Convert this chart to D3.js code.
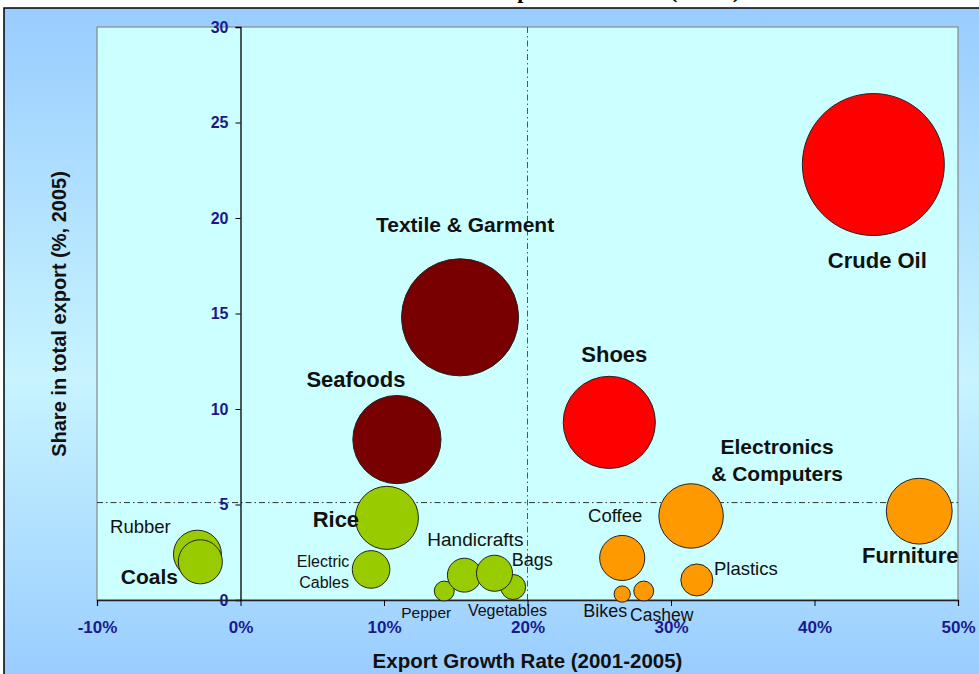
<!DOCTYPE html>
<html>
<head>
<meta charset="utf-8">
<script src="https://cdn.jsdelivr.net/npm/d3@7"></script>
<style>
  body { margin: 0; background: #ffffff; }
  svg { display: block; }
</style>
</head>
<body>
<div id="my_bubble_chart"></div>
<script>
// data
var products = ["Crude Oil", "Textile & Garment", "Shoes", "Seafoods", "Electronics & Computers",
  "Furniture", "Rice", "Rubber", "Coals", "Coffee", "Electric Cables", "Pepper", "Handicrafts",
  "Bags", "Vegetables", "Plastics", "Bikes", "Cashew"];
var growth = [44.1, 15.3, 25.7, 10.9, 31.4, 47.3, 10.2, -3.0, -2.8, 26.6, 9.1, 14.2, 15.6, 19.0, 17.7, 31.8, 26.6, 28.1];
var share = [22.8, 14.8, 9.3, 8.4, 4.4, 4.65, 4.3, 2.4, 2.0, 2.2, 1.6, 0.47, 1.3, 0.68, 1.4, 1.05, 0.31, 0.47];
var bubbleSize = [22.8, 15.5, 9.6, 8.8, 4.7, 4.9, 4.5, 2.6, 2.2, 2.3, 1.6, 0.45, 1.3, 0.71, 1.47, 1.16, 0.3, 0.45];
var group = ["red", "maroon", "red", "maroon", "orange", "orange", "green", "green", "green", "orange",
  "green", "green", "green", "green", "green", "orange", "orange", "orange"];
var xTicks = [-10, 0, 10, 20, 30, 40, 50];
var yTicks = [0, 5, 10, 15, 20, 25, 30];
var shareLine = 5.1;
var growthLine = 20;

// colours per group
var colors = { red: "#ff0000", maroon: "#780000", green: "#99cc00", orange: "#ff9900" };

// where each label goes, relative to its bubble (px)
var labelLayout = {
  "Crude Oil": [{ t: "Crude Oil", dx: 4, dy: 103, s: 22, w: "bold" }],
  "Textile & Garment": [{ t: "Textile & Garment", dx: 5, dy: -85, s: 21, w: "bold" }],
  "Shoes": [{ t: "Shoes", dx: 5, dy: -60, s: 22, w: "bold" }],
  "Seafoods": [{ t: "Seafoods", dx: -41, dy: -53, s: 22, w: "bold" }],
  "Electronics & Computers": [{ t: "Electronics", dx: 86, dy: -62, s: 21, w: "bold" },
    { t: "& Computers", dx: 86, dy: -35, s: 21, w: "bold" }],
  "Furniture": [{ t: "Furniture", dx: -9, dy: 52, s: 22, w: "bold" }],
  "Rice": [{ t: "Rice", dx: -51, dy: 9, s: 22, w: "bold" }],
  "Rubber": [{ t: "Rubber", dx: -57, dy: -21, s: 18.5, w: "normal" }],
  "Coals": [{ t: "Coals", dx: -51, dy: 22, s: 21, w: "bold" }],
  "Coffee": [{ t: "Coffee", dx: -7, dy: -36, s: 18.5, w: "normal" }],
  "Electric Cables": [{ t: "Electric", dx: -48, dy: -2, s: 16, w: "normal" },
    { t: "Cables", dx: -47, dy: 19, s: 16, w: "normal" }],
  "Pepper": [{ t: "Pepper", dx: -18, dy: 27, s: 15.5, w: "normal" }],
  "Handicrafts": [{ t: "Handicrafts", dx: 11, dy: -29, s: 19, w: "normal" }],
  "Bags": [{ t: "Bags", dx: 19, dy: -21, s: 18, w: "normal" }],
  "Vegetables": [{ t: "Vegetables", dx: 13, dy: 43, s: 16, w: "normal" }],
  "Plastics": [{ t: "Plastics", dx: 49, dy: -5, s: 18.5, w: "normal" }],
  "Bikes": [{ t: "Bikes", dx: -17, dy: 23, s: 18, w: "normal" }],
  "Cashew": [{ t: "Cashew", dx: 18, dy: 30, s: 17.5, w: "normal" }]
};

var fullWidth = 979, fullHeight = 674;
var plot = { left: 97, right: 958, top: 27, bottom: 600 };
var font = "'Liberation Sans', Arial, sans-serif";

var data = products.map(function (p, i) {
  return { name: p, x: growth[i], y: share[i], size: bubbleSize[i], group: group[i] };
});

var svg = d3
  .select("#my_bubble_chart")
  .append("svg")
  .attr("width", fullWidth)
  .attr("height", fullHeight);

// background gradient of the frame
var grad = svg.append("defs").append("linearGradient")
  .attr("id", "bg").attr("x1", 0).attr("y1", 0).attr("x2", 0).attr("y2", 1);
grad.append("stop").attr("offset", "0%").attr("stop-color", "#99ccff");
grad.append("stop").attr("offset", "55%").attr("stop-color", "#c8f4ff");
grad.append("stop").attr("offset", "100%").attr("stop-color", "#99ccff");

// title, mostly cut off by the top of the picture
svg.append("text")
  .attr("x", 5).attr("y", -2)
  .attr("font-family", "'Liberation Serif', 'Times New Roman', serif")
  .attr("font-weight", "bold").attr("font-size", 22)
  .attr("textLength", 735).attr("lengthAdjust", "spacing")
  .text("Chart 3: Content and Share of Vietnam\u2019s Export Baskets (2005)");

svg.append("rect")
  .attr("x", 4).attr("y", 8).attr("width", fullWidth + 10).attr("height", fullHeight)
  .attr("fill", "url(#bg)").attr("stroke", "#000").attr("stroke-width", 1.5);

svg.append("rect")
  .attr("x", plot.left).attr("y", plot.top)
  .attr("width", plot.right - plot.left).attr("height", plot.bottom - plot.top)
  .attr("fill", "#ccffff").attr("stroke", "#888").attr("stroke-width", 1.2);

// scales
var x = d3.scaleLinear().domain([-10, 50]).range([plot.left, plot.right]);
var y = d3.scaleLinear().domain([0, 30]).range([plot.bottom, plot.top]);
var r = d3.scaleSqrt().domain([0, 22.8]).range([0, 71]);

// dash-dot reference lines
svg.append("line")
  .attr("x1", plot.left).attr("x2", plot.right)
  .attr("y1", y(shareLine)).attr("y2", y(shareLine))
  .attr("stroke", "#333").attr("stroke-width", 1).attr("stroke-dasharray", "6,3,1.5,3");
svg.append("line")
  .attr("x1", x(growthLine)).attr("x2", x(growthLine))
  .attr("y1", plot.top).attr("y2", plot.bottom)
  .attr("stroke", "#555").attr("stroke-width", 1).attr("stroke-dasharray", "6,3,1.5,3");

// y axis sits on 0%
var yAxis = svg.append("g")
  .attr("transform", "translate(" + x(0) + ",0)")
  .call(d3.axisLeft(y).tickValues(yTicks).tickSize(5).tickPadding(7).tickFormat(d3.format("d")));
yAxis.select(".domain").attr("stroke", "#000").attr("stroke-width", 1.3);
yAxis.selectAll("text")
  .attr("font-family", font).attr("font-weight", "bold").attr("font-size", 16)
  .attr("fill", "#1a1a8c");

// x axis at 0 share
var xAxis = svg.append("g")
  .attr("transform", "translate(0," + y(0) + ")")
  .call(d3.axisBottom(x).tickValues(xTicks).tickSize(6).tickPadding(15)
    .tickFormat(function (d) { return d + "%"; }));
xAxis.select(".domain").attr("stroke", "#222").attr("stroke-width", 1.3);
xAxis.selectAll("text")
  .attr("font-family", font).attr("font-weight", "bold").attr("font-size", 17)
  .attr("fill", "#1a1a8c");

// bubbles
svg.append("g").selectAll("circle")
  .data(data)
  .enter()
  .append("circle")
  .attr("cx", function (d) { return x(d.x); })
  .attr("cy", function (d) { return y(d.y); })
  .attr("r", function (d) { return r(d.size); })
  .attr("fill", function (d) { return colors[d.group]; })
  .attr("stroke", "#222")
  .attr("stroke-width", 1);

// labels
var labels = [];
data.forEach(function (d) {
  labelLayout[d.name].forEach(function (l) {
    labels.push({ d: d, l: l });
  });
});
svg.append("g").selectAll("text")
  .data(labels)
  .enter()
  .append("text")
  .attr("x", function (o) { return x(o.d.x) + o.l.dx; })
  .attr("y", function (o) { return y(o.d.y) + o.l.dy; })
  .attr("text-anchor", "middle")
  .attr("font-family", font)
  .attr("font-weight", function (o) { return o.l.w; })
  .attr("font-size", function (o) { return o.l.s; })
  .attr("fill", "#111")
  .text(function (o) { return o.l.t; });

// axis titles
svg.append("text")
  .attr("transform", "translate(66,314) rotate(-90)")
  .attr("text-anchor", "middle")
  .attr("font-family", font).attr("font-weight", "bold").attr("font-size", 20)
  .attr("fill", "#111")
  .text("Share in total export (%, 2005)");
svg.append("text")
  .attr("x", x(20)).attr("y", 668)
  .attr("text-anchor", "middle")
  .attr("font-family", font).attr("font-weight", "bold").attr("font-size", 20.5)
  .attr("fill", "#111")
  .text("Export Growth Rate (2001-2005)");
</script>
</body>
</html>
